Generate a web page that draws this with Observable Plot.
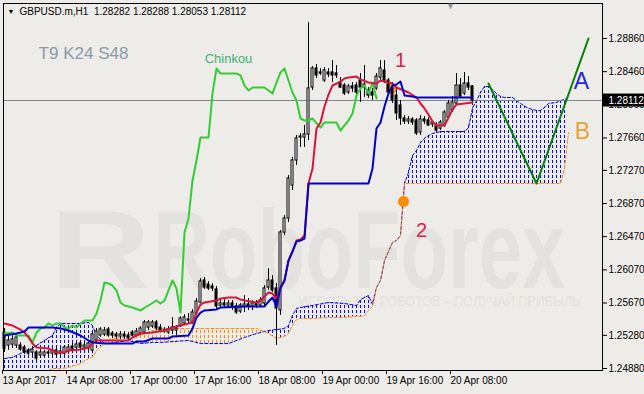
<!DOCTYPE html>
<html><head><meta charset="utf-8">
<script src="https://cdn.jsdelivr.net/npm/d3@7"></script>
<script src="https://cdn.jsdelivr.net/npm/@observablehq/plot@0.6"></script>
<style>
html,body{margin:0;padding:0;background:#EEECE8;}
#chart{width:644px;height:394px;overflow:hidden;}
svg{display:block}
</style></head><body><div id="chart"></div>
<script>
// ---------- DATA ----------
const symbolTitle = "GBPUSD.m,H1\u00a0\u00a01.28282 1.28288 1.28053 1.28112";
const yTickValues = [1.28860, 1.28460, 1.28060, 1.27660, 1.27270, 1.26870, 1.26470, 1.26070, 1.25670, 1.25280, 1.24880];
const xTickIdx = [0, 16, 32, 48, 64, 80, 96, 112];
const xTickLabels = ["13 Apr 2017", "14 Apr 08:00", "17 Apr 00:00", "17 Apr 16:00", "18 Apr 08:00", "19 Apr 00:00", "19 Apr 16:00", "20 Apr 08:00"];

const candleOpen = [1.25314,1.25157,1.25169,1.25157,1.25157,1.25133,1.25097,1.25073,1.25073,1.25037,1.25037,1.25073,1.25061,1.25097,1.25061,1.25061,1.25085,1.25145,1.25133,1.25181,1.25133,1.25121,1.25097,1.25218,1.25278,1.25290,1.25350,1.25302,1.25290,1.25266,1.25290,1.25278,1.25314,1.25278,1.25302,1.25314,1.25374,1.25386,1.25435,1.25374,1.25338,1.25314,1.25338,1.25338,1.25398,1.25423,1.25471,1.25435,1.25543,1.25676,1.25941,1.25893,1.25869,1.25833,1.25640,1.25664,1.25640,1.25664,1.25628,1.25567,1.25628,1.25652,1.25628,1.25664,1.25640,1.25664,1.25857,1.25941,1.25845,1.25580,1.26520,1.26689,1.27087,1.27389,1.27666,1.27666,1.27702,1.28269,1.28498,1.28450,1.28353,1.28450,1.28450,1.28438,1.28329,1.28293,1.28209,1.28281,1.28293,1.28353,1.28269,1.28233,1.28209,1.28257,1.28389,1.28474,1.28353,1.28257,1.28172,1.28052,1.27895,1.27859,1.27883,1.27871,1.27726,1.27883,1.27871,1.27823,1.27811,1.27774,1.27811,1.27907,1.27992,1.28076,1.28293,1.28196,1.28317,1.28282];
const candleHigh = [1.25362,1.25266,1.25278,1.25290,1.25194,1.25157,1.25121,1.25145,1.25097,1.25109,1.25097,1.25097,1.25121,1.25133,1.25121,1.25157,1.25169,1.25181,1.25194,1.25218,1.25194,1.25218,1.25314,1.25362,1.25374,1.25374,1.25374,1.25326,1.25314,1.25326,1.25326,1.25314,1.25338,1.25362,1.25386,1.25459,1.25459,1.25459,1.25459,1.25411,1.25374,1.25386,1.25495,1.25398,1.25507,1.25531,1.25543,1.25592,1.25724,1.25965,1.25977,1.25929,1.25905,1.25869,1.25712,1.25724,1.25700,1.25700,1.25664,1.25664,1.25760,1.25724,1.25700,1.25700,1.25736,1.25881,1.26086,1.26002,1.25905,1.26545,1.26725,1.27208,1.27425,1.27690,1.27714,1.27811,1.29053,1.28522,1.28546,1.28498,1.28510,1.28498,1.28594,1.28534,1.28389,1.28317,1.28305,1.28329,1.28329,1.28438,1.28534,1.28269,1.28257,1.28438,1.28594,1.28594,1.28377,1.28329,1.28257,1.28112,1.27931,1.27919,1.27907,1.27895,1.27931,1.27919,1.27907,1.27871,1.27847,1.27871,1.27992,1.28112,1.28160,1.28438,1.28377,1.28450,1.28401,1.28288];
const candleLow = [1.25073,1.25097,1.25121,1.25121,1.25085,1.25049,1.25037,1.25037,1.24964,1.25000,1.25013,1.25025,1.25025,1.25013,1.25025,1.25037,1.25049,1.25073,1.25097,1.25097,1.25097,1.25085,1.25073,1.25206,1.25254,1.25266,1.25254,1.25242,1.25230,1.25230,1.25230,1.25218,1.25266,1.25266,1.25278,1.25290,1.25338,1.25362,1.25338,1.25314,1.25302,1.25290,1.25290,1.25278,1.25374,1.25398,1.25411,1.25411,1.25519,1.25664,1.25833,1.25821,1.25809,1.25592,1.25604,1.25604,1.25604,1.25580,1.25531,1.25543,1.25555,1.25580,1.25580,1.25604,1.25616,1.25640,1.25821,1.25797,1.25157,1.25519,1.26484,1.26641,1.27027,1.27328,1.27545,1.27545,1.27630,1.28233,1.28377,1.28414,1.28329,1.28389,1.28329,1.28377,1.28257,1.28172,1.28184,1.28209,1.28184,1.28088,1.28148,1.28136,1.28112,1.28233,1.28353,1.28317,1.28172,1.28076,1.27871,1.27811,1.27823,1.27823,1.27811,1.27690,1.27690,1.27823,1.27798,1.27786,1.27726,1.27750,1.27786,1.27883,1.27967,1.28052,1.28136,1.28172,1.28233,1.28053];
const candleClose = [1.25121,1.25218,1.25230,1.25254,1.25109,1.25073,1.25061,1.25109,1.25000,1.25073,1.25073,1.25061,1.25097,1.25049,1.25085,1.25133,1.25133,1.25097,1.25169,1.25133,1.25157,1.25181,1.25290,1.25326,1.25350,1.25338,1.25278,1.25278,1.25266,1.25290,1.25266,1.25242,1.25278,1.25326,1.25362,1.25435,1.25435,1.25435,1.25362,1.25338,1.25326,1.25350,1.25374,1.25362,1.25483,1.25495,1.25459,1.25555,1.25688,1.25929,1.25857,1.25845,1.25845,1.25628,1.25664,1.25640,1.25664,1.25616,1.25555,1.25640,1.25652,1.25628,1.25664,1.25640,1.25700,1.25845,1.25941,1.25821,1.25604,1.26520,1.26689,1.27171,1.27389,1.27654,1.27678,1.27702,1.28257,1.28498,1.28414,1.28438,1.28474,1.28426,1.28414,1.28414,1.28269,1.28196,1.28281,1.28257,1.28209,1.28269,1.28305,1.28172,1.28172,1.28401,1.28498,1.28353,1.28209,1.28112,1.27955,1.27895,1.27859,1.27883,1.27847,1.27714,1.27883,1.27859,1.27811,1.27847,1.27750,1.27847,1.27967,1.28076,1.28088,1.28293,1.28160,1.28317,1.28269,1.28112];

// Ichimoku lines (bar index, price)
const tenkanIdx = [0,2,4,5,6,7,8,11,13,15,16,19,21,22,23,31,32,34,37,40,42,44,47,48,49,50,53,54,56,58,59,60,63,64,65,66,67,68,69,70,71,72,73,74,75,76,77,78,79,80,81,82,84,85,86,88,89,91,93,94,96,97,98,101,103,104,105,106,107,108,110,111,112,113,117];
const tenkanPrice = [1.25423,1.25398,1.25350,1.25314,1.25254,1.25181,1.25133,1.25121,1.25073,1.25073,1.25097,1.25109,1.25133,1.25181,1.25218,1.25218,1.25254,1.25302,1.25314,1.25338,1.25374,1.25398,1.25435,1.25555,1.25652,1.25676,1.25700,1.25724,1.25736,1.25736,1.25712,1.25700,1.25676,1.25700,1.25748,1.25797,1.25784,1.25724,1.25845,1.25941,1.26182,1.26291,1.26424,1.26436,1.26484,1.27111,1.27292,1.27774,1.27847,1.28040,1.28184,1.28293,1.28341,1.28377,1.28389,1.28401,1.28365,1.28329,1.28317,1.28353,1.28329,1.28317,1.28269,1.28209,1.28148,1.28076,1.28016,1.27943,1.27859,1.27811,1.27811,1.27907,1.28003,1.28064,1.28088];
const kijunIdx = [0,3,5,6,12,14,16,19,21,22,25,32,33,35,37,41,42,46,47,48,49,50,53,54,60,65,66,67,68,69,70,71,72,73,74,75,76,91,92,93,94,95,96,97,98,99,100,102,103,117];
const kijunPrice = [1.25278,1.25302,1.25326,1.25374,1.25374,1.25362,1.25338,1.25278,1.25218,1.25194,1.25181,1.25181,1.25206,1.25206,1.25242,1.25242,1.25266,1.25278,1.25362,1.25495,1.25555,1.25580,1.25592,1.25616,1.25628,1.25628,1.25688,1.25736,1.25628,1.25857,1.25941,1.26182,1.26291,1.26412,1.26424,1.26448,1.27111,1.27111,1.27292,1.27774,1.27847,1.28040,1.28196,1.28293,1.28305,1.28341,1.28172,1.28160,1.28148,1.28148];
const chinkouIdx = [0,2,3,6,7,8,9,10,11,12,13,14,15,16,17,18,19,20,22,23,24,25,26,27,28,29,30,32,34,36,38,39,40,41,42,43,44,45,46,47,48,49,51,52,53,54,58,59,60,61,62,65,66,67,68,69,70,71,72,73,74,75,76,77,79,80,83,84,85,86,87,88,89,90,91,92,93];
const chinkouPrice = [1.25302,1.25314,1.25278,1.25278,1.25194,1.25314,1.25362,1.25374,1.25423,1.25398,1.25423,1.25423,1.25374,1.25362,1.25398,1.25374,1.25423,1.25459,1.25459,1.25543,1.25700,1.25917,1.25905,1.25881,1.25821,1.25676,1.25640,1.25616,1.25580,1.25640,1.25700,1.25664,1.25700,1.25821,1.25941,1.25845,1.25555,1.26520,1.26689,1.27147,1.27389,1.27666,1.27666,1.28196,1.28498,1.28438,1.28438,1.28414,1.28293,1.28233,1.28269,1.28269,1.28233,1.28196,1.28329,1.28450,1.28498,1.28353,1.28209,1.28112,1.27895,1.27871,1.27871,1.27895,1.27786,1.27847,1.27847,1.27750,1.27811,1.27871,1.27955,1.28172,1.28257,1.28293,1.28196,1.28329,1.28136];

// Kumo (Senkou span A / B), shifted 24 bars forward
const cloudIdx = [0,2,4,6,8,10,12,13,14,16,19,21,22,23,25,26,31,34,37,39,46,49,56,60,63,65,66,68,70,71,72,73,74,77,81,85,88,89,90,91,92,93,94,95,96,97,98,99,100,101,102,103,104,105,106,107,109,115,116,117,118,119,120,121,122,123,124,125,127,128,129,131,133,134,135,136,138,139,140,141];
const spanA = [1.25000,1.25013,1.25061,1.25097,1.25157,1.25218,1.25278,1.25374,1.25423,1.25423,1.25423,1.25435,1.25398,1.25278,1.25181,1.25181,1.25218,1.25181,1.25194,1.25194,1.25218,1.25181,1.25181,1.25254,1.25302,1.25326,1.25338,1.25350,1.25362,1.25398,1.25519,1.25604,1.25616,1.25640,1.25676,1.25664,1.25640,1.25712,1.25736,1.25760,1.25652,1.25857,1.25941,1.26182,1.26291,1.26400,1.26424,1.26484,1.27111,1.27244,1.27449,1.27509,1.27606,1.27654,1.27690,1.27714,1.27738,1.27738,1.27786,1.28016,1.28112,1.28209,1.28281,1.28281,1.28245,1.28196,1.28160,1.28148,1.28148,1.28112,1.28076,1.28016,1.27992,1.27992,1.28028,1.28076,1.28088,1.28112,1.28124,1.28148];
const spanB = [1.24759,1.24771,1.24783,1.24796,1.24808,1.24832,1.24880,1.24880,1.24880,1.24892,1.24940,1.25000,1.25013,1.25097,1.25181,1.25230,1.25266,1.25278,1.25338,1.25362,1.25362,1.25362,1.25362,1.25362,1.25362,1.25326,1.25302,1.25242,1.25266,1.25302,1.25398,1.25471,1.25483,1.25483,1.25495,1.25495,1.25507,1.25507,1.25519,1.25580,1.25628,1.25857,1.25941,1.26182,1.26291,1.26400,1.26424,1.26484,1.27111,1.27111,1.27111,1.27111,1.27111,1.27111,1.27111,1.27111,1.27111,1.27111,1.27111,1.27111,1.27111,1.27111,1.27111,1.27111,1.27111,1.27111,1.27111,1.27111,1.27111,1.27111,1.27111,1.27111,1.27111,1.27111,1.27111,1.27111,1.27111,1.27111,1.27292,1.27726];

// Forecast path and markers
const forecastIdx = [121, 133, 146];
const forecastPrice = [1.28317, 1.27111, 1.28860];
const markerIdx = [96.75, 99.75];
const markerPrice = [1.28257, 1.26894];

// Annotation texts
const annText = ["T9 K24 S48", "Chinkou", "1", "2", "A", "B"];
const annIdx = [19.75, 56, 99, 104.25, 144.25, 144.5];
const annPrice = [1.28679, 1.28619, 1.28594, 1.26545, 1.28341, 1.27738];
const watermarkText = ["R", "RoboForex", "ИСПОЛЬЗУЙ РОБОТОВ – ПОЛУЧАЙ ПРИБЫЛЬ"];
const watermarkIdx = [11.5, 37.25, 144];
const watermarkPrice = [1.25845, 1.25845, 1.25688];

// ---------- BUILD ----------
const bars = candleOpen.map((o, i) => ({i, o, h: candleHigh[i], l: candleLow[i], c: candleClose[i]}));
const line = (idx, price) => idx.map((i, k) => ({i, p: price[k]}));
const tenkan = line(tenkanIdx, tenkanPrice);
const kijun = line(kijunIdx, kijunPrice);
const chinkou = line(chinkouIdx, chinkouPrice);
const forecast = line(forecastIdx, forecastPrice);
const markers = line(markerIdx, markerPrice);
const cloud = cloudIdx.map((i, k) => ({i, a: spanA[k], b: spanB[k]}));
const pieces = [];
for (let k = 0; k + 1 < cloud.length; k++) {
  const r0 = cloud[k], r1 = cloud[k + 1];
  const s = (r0.a - r0.b) + (r1.a - r1.b);
  if (Math.abs(s) < 1e-9) continue;
  const up = s > 0;
  pieces.push({...r0, k, up}, {...r1, k, up});
}
const lastClose = candleClose[candleClose.length - 1];
const ann = annText.map((t, k) => ({t, i: annIdx[k], p: annPrice[k]}));
const wm = watermarkText.map((t, k) => ({t, i: watermarkIdx[k], p: watermarkPrice[k]}));
const xLabel = new Map(xTickIdx.map((d, k) => [d, xTickLabels[k]]));

const xDomain = [-0.25, 149.5];
const font = "'Liberation Sans', Arial, sans-serif";
const wmColor = "#E4E2DE";

const chart = Plot.plot({
  width: 644, height: 394,
  marginLeft: 3, marginRight: 42, marginTop: 3, marginBottom: 24,
  style: {background: "#EEECE8", fontFamily: font, fontSize: "10px", color: "#000"},
  x: {domain: xDomain, axis: null},
  y: {domain: [1.24856, 1.29282], axis: null},
  marks: [
    // watermark
    Plot.text(wm.slice(0, 2), {x: "i", y: "p", text: "t", textAnchor: "start", lineAnchor: "bottom", fontSize: 112, fontWeight: "bold", fill: wmColor}),
    Plot.text(wm.slice(2), {x: "i", y: "p", text: "t", textAnchor: "end", lineAnchor: "middle", fontSize: 14, fill: wmColor}),
    // kumo hatch
    Plot.areaY(pieces.filter(d => d.up), {x: "i", y1: "a", y2: "b", z: "k", fill: "url(#hatchBlue)", clip: true}),
    Plot.areaY(pieces.filter(d => !d.up), {x: "i", y1: "a", y2: "b", z: "k", fill: "url(#hatchOrange)", clip: true}),
    Plot.line(cloud, {x: "i", y: "a", stroke: "#0000FF", strokeWidth: 1, strokeDasharray: "3,2", clip: true}),
    Plot.line(cloud, {x: "i", y: "b", stroke: "#FF8C00", strokeWidth: 1, strokeDasharray: "3,2", clip: true}),
    // bid line
    Plot.ruleY([lastClose], {stroke: "#7B8896", strokeWidth: 1}),
    Plot.dot(markers.slice(0, 1), {x: "i", y: "p", r: 5.5, fill: "#FF8C00", fillOpacity: 0.85}),
    // candles
    Plot.ruleX(bars, {x: "i", y1: "l", y2: "h", stroke: "#000", strokeWidth: 1}),
    Plot.rect(bars, {x1: d => d.i - 0.25, x2: d => d.i + 0.25,
      y1: d => Math.min(d.o, d.c) - 0.00001, y2: d => Math.max(d.o, d.c) + 0.00001,
      fill: d => d.c >= d.o ? "#FFFFFF" : "#000000", stroke: "#000", strokeWidth: 1}),
    // ichimoku lines
    Plot.line(chinkou, {x: "i", y: "p", stroke: "#32CD32", strokeWidth: 2}),
    Plot.line(tenkan, {x: "i", y: "p", stroke: "#DC143C", strokeWidth: 2}),
    Plot.line(kijun, {x: "i", y: "p", stroke: "#0000CD", strokeWidth: 2}),
    // forecast
    Plot.line(forecast, {x: "i", y: "p", stroke: "#008000", strokeWidth: 2}),
    Plot.dot(markers.slice(1), {x: "i", y: "p", r: 5.5, fill: "#FF8C00"}),
    // annotations
    Plot.text(ann.slice(0, 1), {x: "i", y: "p", text: "t", fontSize: 17, fill: "#8C9AA8", lineAnchor: "middle"}),
    Plot.text(ann.slice(1, 2), {x: "i", y: "p", text: "t", fontSize: 13, fill: "#3CB371", lineAnchor: "middle"}),
    Plot.text(ann.slice(2, 4), {x: "i", y: "p", text: "t", fontSize: 20, fill: "#E0204F", lineAnchor: "middle"}),
    Plot.text(ann.slice(4, 5), {x: "i", y: "p", text: "t", fontSize: 23, fill: "#2626D6", lineAnchor: "middle"}),
    Plot.text(ann.slice(5, 6), {x: "i", y: "p", text: "t", fontSize: 23, fill: "#E8A23A", lineAnchor: "middle"}),
    // frame & axes
    Plot.frame({stroke: "#000"}),
    Plot.axisY(yTickValues, {anchor: "right", label: null, tickSize: 4, tickPadding: 2, tickFormat: d => d.toFixed(5), fontSize: 10}),
    Plot.axisX(xTickIdx, {anchor: "bottom", label: null, tickSize: 4, tickPadding: 2, tickFormat: d => xLabel.get(d), textAnchor: "start", dx: -2, fontSize: 10}),
    // current price label
    Plot.rect([lastClose], {x1: xDomain[1] + 0.25, x2: xDomain[1] + 11, y1: d => d - 0.00078, y2: d => d + 0.00078, fill: "#000"}),
    Plot.text([lastClose], {x: xDomain[1] + 1.5, y: d => d, text: d => d.toFixed(5), fill: "#FFF", textAnchor: "start", lineAnchor: "middle", fontSize: 10}),
    // title
    Plot.text([symbolTitle], {frameAnchor: "top-left", dx: 16, dy: 4, text: d => d, textAnchor: "start", lineAnchor: "top", fontSize: 10, fill: "#000"}),
    Plot.text(["\u25BC"], {frameAnchor: "top-left", dx: 4, dy: 6, text: d => d, textAnchor: "start", lineAnchor: "top", fontSize: 7, fill: "#000"}),
    Plot.text(["\u25BC"], {x: 111.5, frameAnchor: "top", dy: -1, text: d => d, lineAnchor: "top", fontSize: 9, fill: "#8A96A3"})
  ]
});

const defs = d3.select(chart).insert("defs", ":first-child");
[["hatchBlue", "#0000FF"], ["hatchOrange", "#FF8C00"]].forEach(([id, c]) => {
  const p = defs.append("pattern").attr("id", id).attr("patternUnits", "userSpaceOnUse")
    .attr("x", 0).attr("y", 0).attr("width", 4).attr("height", 5);
  p.append("rect").attr("x", 0).attr("y", 0).attr("width", 1).attr("height", 3)
    .attr("fill", c).attr("shape-rendering", "crispEdges");
});
const wmWidths = [100, 412, 282];
d3.select(chart).selectAll("text").each(function () {
  const k = watermarkText.indexOf(this.textContent);
  if (k >= 0) d3.select(this).attr("textLength", wmWidths[k]).attr("lengthAdjust", "spacingAndGlyphs");
});
document.getElementById("chart").appendChild(chart);
</script></body></html>
